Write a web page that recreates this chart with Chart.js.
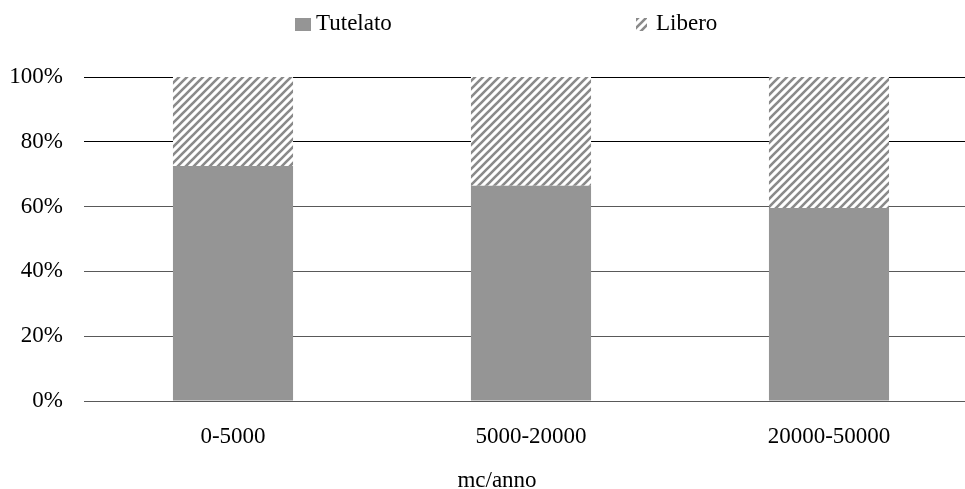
<!DOCTYPE html>
<html>
<head>
<meta charset="utf-8">
<script src="https://cdn.jsdelivr.net/npm/chart.js@4/dist/chart.umd.min.js"></script>
<style>
  html, body { margin: 0; padding: 0; background: #fff; overflow: hidden; }
  #wrap { width: 994px; height: 489px; }
</style>
</head>
<body>
<div id="wrap"><canvas id="quotaChart" width="994" height="489"></canvas></div>
<script>
const categories = ["0-5000", "5000-20000", "20000-50000"];
const tutelato = [72.5, 66.4, 59.6];
const libero = [27.5, 33.6, 40.4];
const yTicks = [0, 20, 40, 60, 80, 100];
const axisTitle = "mc/anno";

const FONT = "'Liberation Serif', 'Times New Roman', serif";
const SOLID = "#959595";

function makeHatch() {
  const c = document.createElement("canvas");
  c.width = 8;
  c.height = 8;
  const g = c.getContext("2d");
  g.fillStyle = "#fff";
  g.fillRect(0, 0, 8, 8);
  g.strokeStyle = "#8a8a8a";
  g.lineWidth = 2.6;
  g.beginPath();
  g.moveTo(0, 8); g.lineTo(8, 0);
  g.moveTo(-4, 4); g.lineTo(4, -4);
  g.moveTo(4, 12); g.lineTo(12, 4);
  g.stroke();
  return g.createPattern(c, "repeat");
}

const hatch = makeHatch();

// legend with the wide gap between items, plus the axis title
const extras = {
  id: "extras",
  afterDraw(chart) {
    const ctx = chart.ctx;
    const ds = chart.data.datasets;
    ctx.save();
    ctx.font = "23px " + FONT;
    ctx.textBaseline = "alphabetic";
    ctx.textAlign = "left";
    ctx.fillStyle = ds[0].backgroundColor;
    ctx.fillRect(295, 18, 16, 13);
    ctx.fillStyle = "#000";
    ctx.fillText(ds[0].label, 316, 30);
    ctx.fillStyle = ds[1].backgroundColor;
    ctx.fillRect(636, 18, 11, 13);
    ctx.fillStyle = "#000";
    ctx.fillText(ds[1].label, 656, 30);
    ctx.textAlign = "center";
    ctx.fillText(axisTitle, 497, 487);
    ctx.restore();
  }
};

const ctx = document.getElementById("quotaChart").getContext("2d");
new Chart(ctx, {
  type: "bar",
  data: {
    labels: categories,
    datasets: [
      {
        label: "Tutelato",
        data: tutelato,
        backgroundColor: SOLID,
        borderWidth: 0,
        categoryPercentage: 0.403,
        barPercentage: 1,
      },
      {
        label: "Libero",
        data: libero,
        backgroundColor: hatch,
        borderWidth: 0,
        categoryPercentage: 0.403,
        barPercentage: 1,
      },
    ],
  },
  options: {
    responsive: false,
    animation: false,
    devicePixelRatio: 1,
    layout: { padding: { left: 0, right: 16, top: 77, bottom: 0 } },
    plugins: {
      legend: { display: false },
      tooltip: { enabled: false },
    },
    scales: {
      x: {
        stacked: true,
        grid: { display: false },
        border: { display: false },
        ticks: {
          color: "#000",
          padding: 14,
          font: { family: FONT, size: 23 },
          maxRotation: 0,
        },
        afterFit(scale) { scale.height = 88; },
      },
      y: {
        stacked: true,
        min: 0,
        max: 100,
        afterBuildTicks(scale) {
          scale.ticks = yTicks.map((v) => ({ value: v }));
        },
        ticks: {
          color: "#000",
          padding: 21,
          font: { family: FONT, size: 23 },
          callback: (v) => v + "%",
        },
        grid: {
          drawTicks: false,
          color: (c) => (c.tick && c.tick.value >= 80 ? "#000" : "#595959"),
          lineWidth: 1,
        },
        border: { display: false },
        afterFit(scale) { scale.width = 84; },
      },
    },
  },
  plugins: [extras],
});
</script>
</body>
</html>
